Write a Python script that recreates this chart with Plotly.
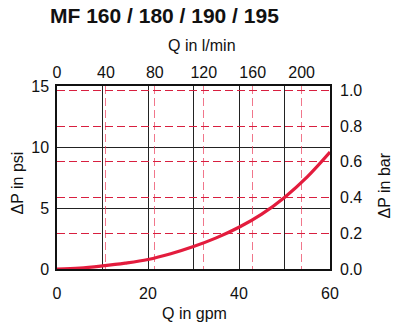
import plotly.graph_objects as go

# Data
q_gpm = [0, 5, 10, 15, 20, 25, 30, 35, 40, 45, 50, 55, 60]
dp_psi = [0, 0.07, 0.25, 0.48, 0.78, 1.25, 1.84, 2.55, 3.42, 4.5, 5.87, 7.55, 9.58]
lpm_ticks = [0, 40, 80, 120, 160, 200]
gpm_ticks = [0, 20, 40, 60]
psi_ticks = [0, 5, 10, 15]
bar_ticks = [0.0, 0.2, 0.4, 0.6, 0.8, 1.0]

LPM_PER_GPM = 3.72
PSI_PER_BAR = 14.65

FONT = "Liberation Sans, Arial, Helvetica, sans-serif"
RED = "#e31c3d"

fig = go.Figure()
fig.add_trace(go.Scatter(x=q_gpm, y=dp_psi, mode="lines", line=dict(color=RED, width=3.2, shape="spline"),
                         xaxis="x", yaxis="y", showlegend=False, hoverinfo="skip"))
# dummy trace to activate secondary axes
fig.add_trace(go.Scatter(x=[0], y=[0], xaxis="x2", yaxis="y2", mode="markers",
                         marker=dict(opacity=0), showlegend=False, hoverinfo="skip"))

fig.update_layout(
    width=398, height=324,
    margin=dict(l=57, r=68, t=86, b=55),
    paper_bgcolor="white", plot_bgcolor="white",
    font=dict(family=FONT, size=16, color="#111"),
    xaxis=dict(range=[0, 60], tickvals=gpm_ticks, showgrid=True, gridcolor="#222", gridwidth=1,
               minor=dict(dtick=10, showgrid=True, gridcolor="#222", gridwidth=1),
               showline=True, linecolor="#111", linewidth=1.5, mirror=True, ticks="", zeroline=False,
               ticklabelstandoff=9, layer="below traces"),
    yaxis=dict(range=[0, 15], tickvals=psi_ticks, showgrid=True, gridcolor="#222", gridwidth=1,
               showline=True, linecolor="#111", linewidth=1.5, mirror=True, ticks="", zeroline=False,
               ticklabelstandoff=3),
    xaxis2=dict(range=[0, 60 * LPM_PER_GPM], tickvals=lpm_ticks, overlaying="x", side="top",
                showgrid=True, gridcolor="rgba(235,60,90,0.7)", gridwidth=1.3, griddash="8px,4px",
                showline=False, ticks="", zeroline=False, ticklabelstandoff=4),
    yaxis2=dict(range=[0, 15 / PSI_PER_BAR], tickvals=bar_ticks, ticktext=[f"{v:.1f}" for v in bar_ticks],
                overlaying="y", side="right",
                showgrid=True, gridcolor="#d81f3f", gridwidth=1, griddash="8px,4px",
                showline=False, ticks="", zeroline=False, ticklabelstandoff=9),
    annotations=[
        dict(text="<b>MF 160 / 180 / 190 / 195</b>", xref="paper", yref="paper",
             x=(48 - 57) / 273, y=(269 - 15) / 183, xanchor="left", yanchor="middle",
             showarrow=False, font=dict(size=21, color="#111", family=FONT)),
        dict(text="Q in l/min", xref="paper", yref="paper", x=(201.7 - 57) / 273, y=(269 - 46) / 183,
             xanchor="center", yanchor="middle", showarrow=False, font=dict(size=16)),
        dict(text="Q in gpm", xref="paper", yref="paper", x=(194 - 57) / 273, y=(269 - 313) / 183,
             xanchor="center", yanchor="middle", showarrow=False, font=dict(size=16)),
        dict(text="ΔP in psi", xref="paper", yref="paper", x=(16.5 - 57) / 273, y=(269 - 183) / 183,
             xanchor="center", yanchor="middle", textangle=-90, showarrow=False, font=dict(size=16)),
        dict(text="ΔP in bar", xref="paper", yref="paper", x=(383.5 - 57) / 273, y=(269 - 186) / 183,
             xanchor="center", yanchor="middle", textangle=-90, showarrow=False, font=dict(size=16)),
    ],
)

fig.write_html("out.html")
